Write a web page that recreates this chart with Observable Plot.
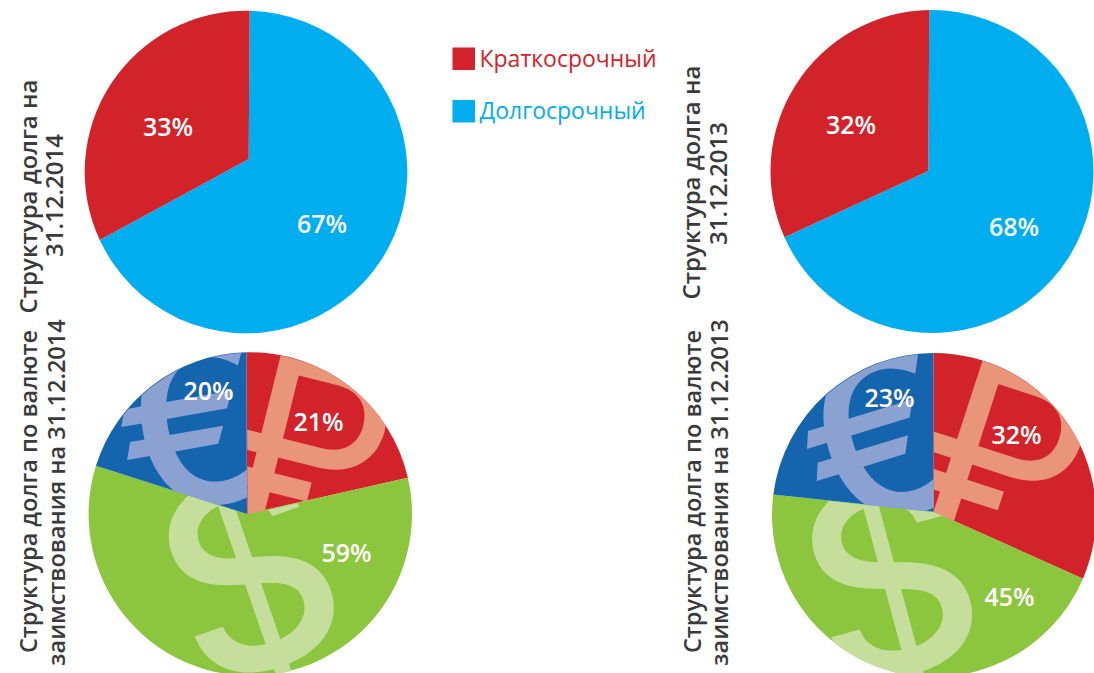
<!DOCTYPE html>
<html><head><meta charset="utf-8">
<script src="https://cdn.jsdelivr.net/npm/d3@7"></script>
<script src="https://cdn.jsdelivr.net/npm/@observablehq/plot@0.6"></script>
<style>html,body{margin:0;padding:0;background:#fff;overflow:hidden}</style>
</head><body><div id="chart"></div>
<script>
const termCategories = ["Долгосрочный", "Краткосрочный"];
const currencyCategories = ["Рубль", "Доллар", "Евро"];
const termColors = ["#00aeef", "#d2232a"];
const currencyColors = ["#d2232a", "#8cc63f", "#1464ae"];
const term2014Shares = [67.7, 32.3];
const term2013Shares = [68.6, 31.4];
const currency2014Shares = [21.8, 58.4, 19.8];
const currency2013Shares = [31.5, 45.6, 22.9];
const term2014Labels = ["67%", "33%"];
const term2013Labels = ["68%", "32%"];
const currency2014Labels = ["21%", "59%", "20%"];
const currency2013Labels = ["32%", "45%", "23%"];

const layout = [
  {id:"a", cats:termCategories, shares:term2014Shares, labels:term2014Labels, cx:246, cy:172, R:161.3, ax:248.7, ay:159, rot:1.3, lx:[321.5,167.5], ly:[224,127]},
  {id:"b", cats:termCategories, shares:term2013Shares, labels:term2013Labels, cx:932, cy:171.5, R:161.5, ax:928.3, ay:171, rot:-0.96, lx:[1013.5,850.5], ly:[227,125]},
  {id:"c", cats:currencyCategories, shares:currency2014Shares, labels:currency2014Labels, cx:250.3, cy:514, R:161.7, ax:247, ay:514, rot:-1.4, lx:[318,346,208], ly:[422,553,391]},
  {id:"d", cats:currencyCategories, shares:currency2013Shares, labels:currency2013Labels, cx:934, cy:515, R:162, ax:933.3, ay:511.7, rot:-0.25, lx:[1016,1009,889], ly:[435,597,398]}
];
const slices = layout.flatMap(p => {
  const arcs = d3.pie().sort(null).startAngle(p.rot*Math.PI/180).endAngle((p.rot+360)*Math.PI/180)(p.shares);
  return arcs.map((a,i)=>({pie:p.id,category:p.cats[i],label:p.labels[i],cx:p.cx,cy:p.cy,R:p.R,ax:p.ax,ay:p.ay,a0:a.startAngle,a1:a.endAngle,lx:p.lx[i],ly:p.ly[i],clip:`clip-${p.id}-${i}`}));
});
const wedgePath = d => {
  const pt = t => [d.cx+d.R*Math.sin(t), d.cy-d.R*Math.cos(t)];
  const [x0,y0]=pt(d.a0), [x1,y1]=pt(d.a1);
  return `M${d.ax},${d.ay}L${x0},${y0}A${d.R},${d.R} 0 ${d.a1-d.a0>Math.PI?1:0} 1 ${x1},${y1}Z`;
};
const wedges = (data) => Plot.dot(data, {x:"ax", y:"ay", fill:"category", r:1, render(index, scales, ch, dim, ctx) {
  const g = d3.select(ctx.document.createElementNS("http://www.w3.org/2000/svg","g"));
  const defs = g.append("defs");
  for (const i of index) {
    const d = data[i];
    g.append("path").attr("d", wedgePath(d)).attr("fill", ch.fill[i]);
    defs.append("clipPath").attr("id", d.clip).append("path").attr("d", wedgePath(d));
  }
  return g.node();
}});
const glyphs = [
  {g:"₽", x:304, y:457, size:240, w:400, rot:14, fill:"#e8957a", clip:"clip-c-0"},
  {g:"$", x:252, y:583, size:265, w:500, rot:-19, fill:"#c5de9c", clip:"clip-c-1"},
  {g:"€", x:194, y:432, size:230, w:500, rot:-10, fill:"#8aa1d2", clip:"clip-c-2"},
  {g:"₽", x:998, y:466, size:240, w:400, rot:18, fill:"#e8957a", clip:"clip-d-0"},
  {g:"$", x:892, y:588, size:265, w:500, rot:-15, fill:"#c5de9c", clip:"clip-d-1"},
  {g:"€", x:880, y:445, size:230, w:500, rot:-17, fill:"#8aa1d2", clip:"clip-d-2"}
];
const glyphMarks = glyphs.map(o => Plot.text([o], {x:"x", y:"y", text:"g", fontSize:o.size, rotate:o.rot, fill:o.fill, fontFamily:"Inter", fontWeight:o.w, render(i,s,c,d,ctx,next){
  const el = next(i,s,c,d,ctx); el.setAttribute("clip-path",`url(#${o.clip})`); return el;}}));
const sideLabels = [
  {t:"Структура долга на", x:29, y:196, s:24},
  {t:"31.12.2014", x:55, y:195, s:24},
  {t:"Структура долга на", x:692, y:182, s:24},
  {t:"31.12.2013", x:719, y:183, s:24},
  {t:"Структура долга по валюте", x:29, y:491, s:23.5},
  {t:"заимствования на 31.12.2014", x:57, y:492, s:23.5},
  {t:"Структура долга по валюте", x:693, y:491, s:23.5},
  {t:"заимствования на 31.12.2013", x:720, y:492, s:23.5}
];
const legend = [
  {t:"Краткосрочный", x:479, y:59, x1:452.5, x2:475, y1:47.5, y2:70, c:"#d2232a"},
  {t:"Долгосрочный", x:479, y:111, x1:452.5, x2:475, y1:100, y2:122.5, c:"#00aeef"}
];
const chart = Plot.plot({
  width:1094, height:673, margin:0,
  x:{domain:[0,1094], range:[0,1094], axis:null},
  y:{domain:[0,673], range:[0,673], axis:null},
  color:{domain:[...termCategories, ...currencyCategories], range:[...termColors, ...currencyColors]},
  style:{background:"#fff"},
  marks:[
    wedges(slices),
    ...glyphMarks,
    Plot.text(slices, {x:"lx", y:"ly", text:"label", fill:"#fff", fontSize:25, fontWeight:600, fontFamily:"Open Sans"}),
    Plot.text(sideLabels, {x:"x", y:"y", text:"t", rotate:-90, fill:"#3a3a3a", fontSize:"s", fontWeight:600, fontFamily:"Open Sans"}),
    Plot.rect(legend, {x1:"x1", x2:"x2", y1:"y1", y2:"y2", fill:"c"}),
    Plot.text(legend, {x:"x", y:"y", text:"t", fill:"c", fontSize:23, textAnchor:"start", fontFamily:"Open Sans"})
  ]
});
document.getElementById("chart").append(chart);
</script></body></html>
